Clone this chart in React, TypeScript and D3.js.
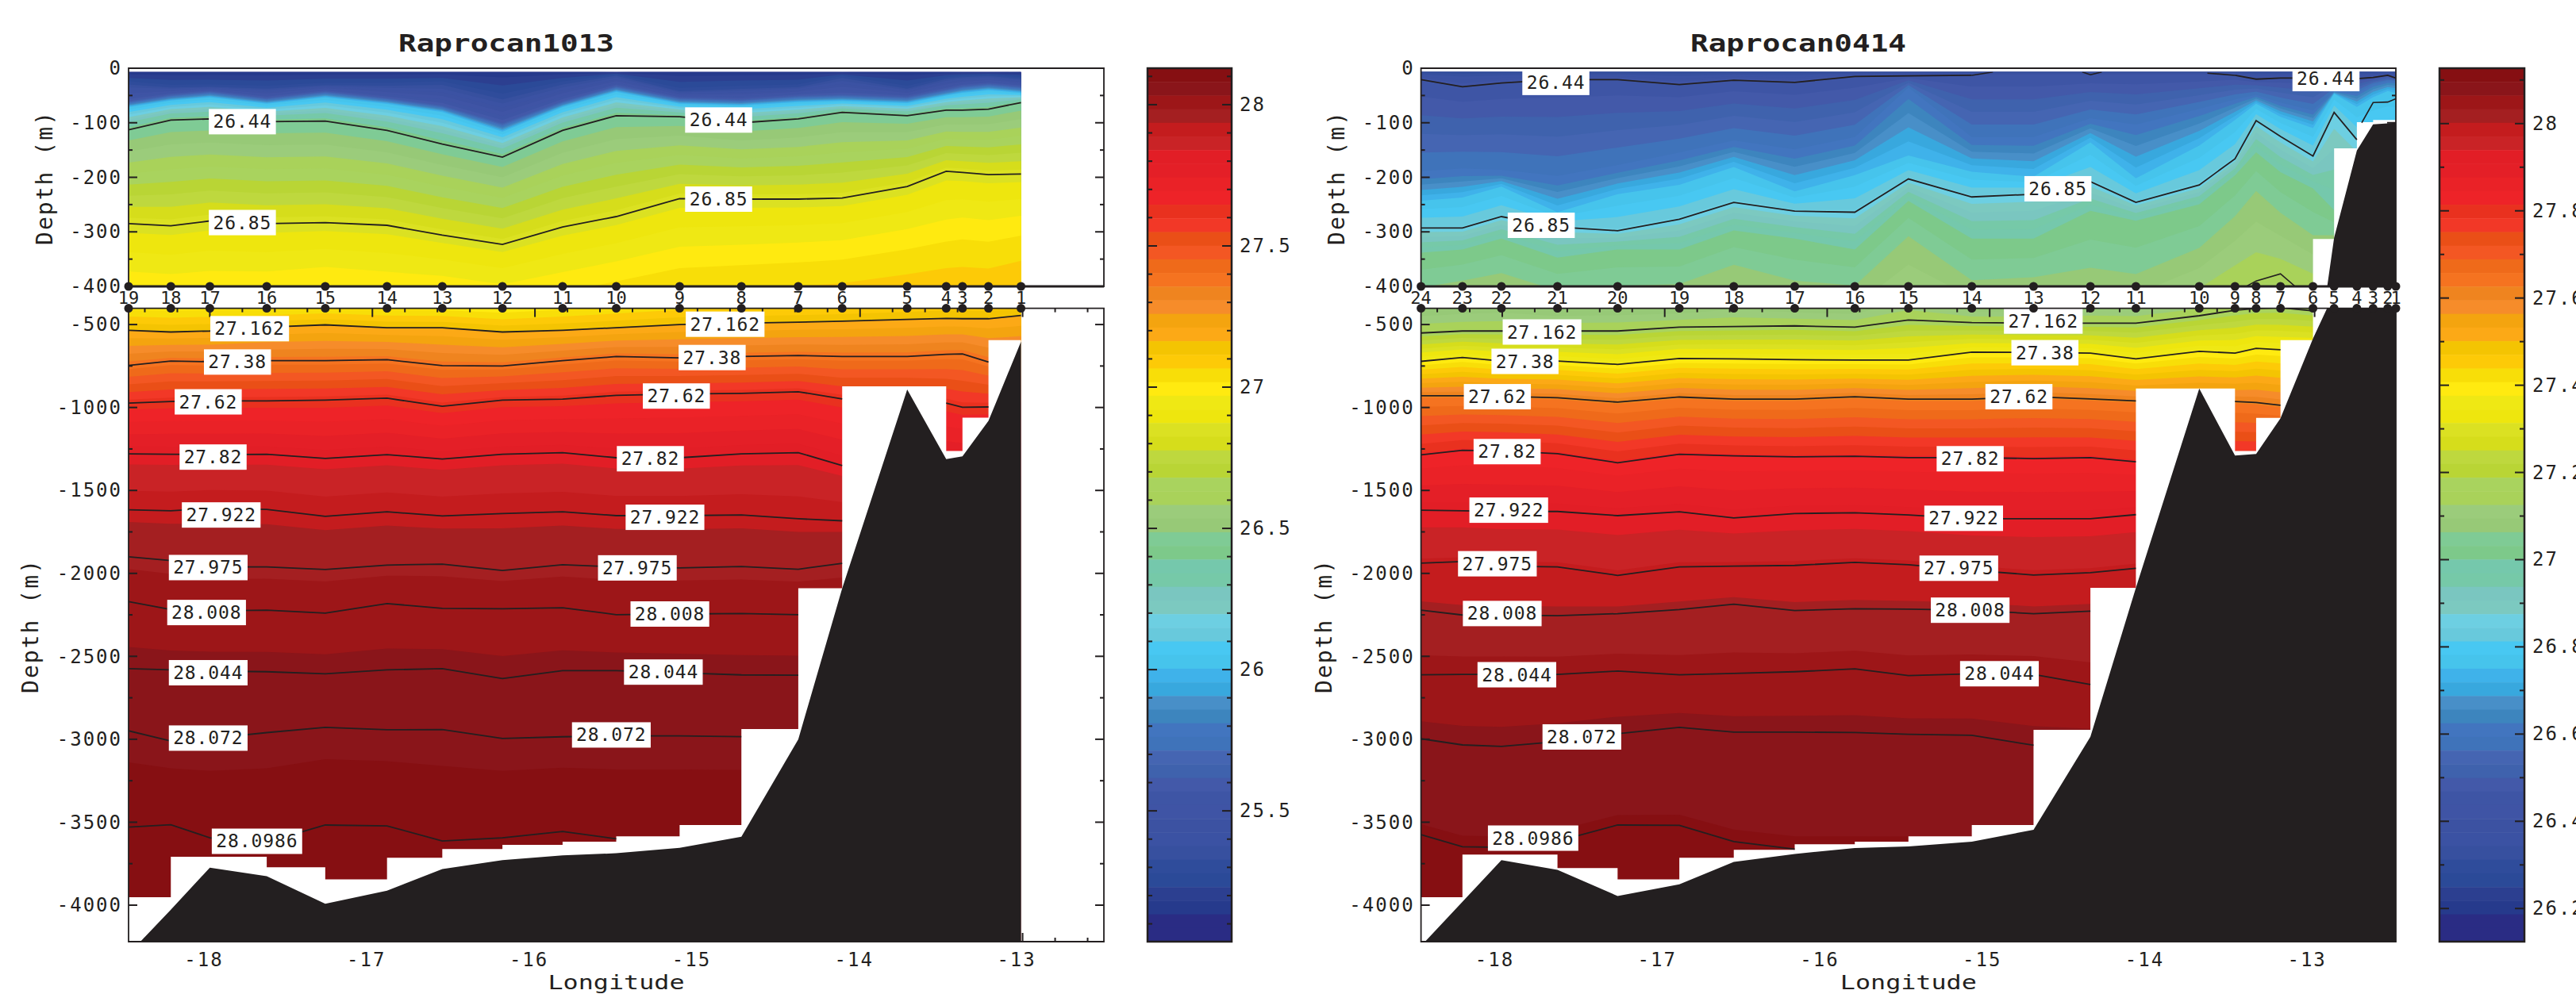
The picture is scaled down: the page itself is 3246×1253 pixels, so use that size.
import React, { useEffect, useRef } from 'react';
import { select, scaleLinear, area, line, curveStepAfter, range, axisLeft, axisBottom } from 'd3';

// colorbar colours, densest band first (same 64 in both colorbars)
const palette = [
  '#860f12', '#8a151a', '#9d1618', '#a41f21', '#c41c1e', '#c92326', '#e21e26', '#e41f27',
  '#ea2227', '#ee2328', '#e9311f', '#f23827', '#ea4f17', '#f35723', '#ef6a1a', '#f57320',
  '#ef841f', '#f68c2a', '#f4a40f', '#fca916', '#f4c402', '#fdca07', '#f8de08', '#ffea10',
  '#efe814', '#eee60e', '#dbe122', '#d6dd1b', '#bed83e', '#b9d535', '#a9d35e', '#a9d25a',
  '#9bcc7b', '#97c977', '#7fcb95', '#7dc98a', '#75c8ac', '#76c9a8', '#7ac6c0', '#7cc9c0',
  '#6dcfe2', '#68c9dc', '#48c8f2', '#46c4ec', '#3fb2ea', '#38a8de', '#488fc8', '#3d85be',
  '#4275bf', '#3f73ba', '#4565b2', '#3f62ad', '#4359a9', '#3e55a5', '#3f54a5', '#3c52a2',
  '#3b52a3', '#37509f', '#2f4c9b', '#2b4a98', '#2c3f90', '#263a8c', '#2a2c84', '#2a2c84',
];

const _ = null;

// ---- Raprocan1013 ----
const leftNames = [19, 18, 17, 16, 15, 14, 13, 12, 11, 10, 9, 8, 7, 6, 5, 4, 3, 2, 1];
const leftLon = [-18.5, -18.24, -18.0, -17.65, -17.29, -16.91, -16.57, -16.2, -15.83, -15.5, -15.11, -14.73, -14.38, -14.11, -13.71, -13.47, -13.37, -13.21, -13.01];
const leftTopo = [4295, 4027, 3774, 3826, 3992, 3913, 3782, 3729, 3700, 3687, 3654, 3588, 3000, 2091, 892, 1311, 1295, 1081, 603];
const leftCells = [3952, 3708, 3708, 3772, 3845, 3714, 3662, 3637, 3617, 3585, 3517, 2939, 2089, 872, 872, 1262, 1061, 594, 594];
const l2530 = [27, 34, 33, 36, 30, 30, 27, 53, 27, 12, 41, 36, 33, 15, 36, 18, 15, 13, 18];
const l2560 = [60, 48, 42, 54, 42, 54, 68, 100, 60, 32, 54, 57, 50, 48, 52, 38, 32, 28, 33];
const l2600 = [71, 59, 53, 65, 53, 65, 80, 116, 71, 43, 65, 68, 62, 60, 64, 50, 45, 40, 45];
const l2644 = [113, 95, 93, 98, 97, 114, 139, 163, 114, 87, 89, 100, 93, 81, 87, 77, 77, 75, 63];
const l2685 = [285, 289, 280, 285, 283, 288, 306, 323, 291, 272, 239, 240, 240, 238, 217, 189, 191, 195, 194];
const l2700 = [395, 400, 395, 395, 385, 395, 400, 415, 395, 375, 350, 345, 340, 335, 315, 300, 295, 300, 290];
const l27162 = [535, 545, 539, 516, 502, 519, 519, 545, 535, 519, 500, 492, 486, 480, 469, 463, 465, 465, 445];
const l2738 = [746, 720, 724, 718, 718, 712, 748, 750, 718, 693, 701, 693, 687, 693, 693, 679, 677, 726, _];
const l2762 = [974, 964, 960, 960, 956, 944, 993, 956, 950, 927, 919, 915, 905, 948, _, 974, 999, 997, _];
const l2782 = [1280, 1282, 1284, 1282, 1307, 1284, 1311, 1282, 1272, 1303, 1303, 1280, 1272, 1350, _, _, _, _, _];
const l27922 = [1617, 1623, 1608, 1614, 1656, 1629, 1654, 1639, 1629, 1652, 1652, 1648, 1671, 1683, _, _, _, _, _];
const l27975 = [1900, 1923, 1961, 1961, 1977, 1950, 1944, 1983, 1948, 1961, 1967, 1959, 1975, 1940, _, _, _, _, _];
const l28008 = [2170, 2218, 2226, 2222, 2240, 2182, 2211, 2213, 2207, 2249, 2245, 2242, 2249, _, _, _, _, _, _];
const l28044 = [2574, 2582, 2589, 2593, 2605, 2582, 2574, 2634, 2586, 2586, 2599, 2612, 2614, _, _, _, _, _, _];
const l28072 = [2949, 3011, 2995, 2960, 2928, 2943, 2941, 2995, 2985, 2980, 2980, 2984, _, _, _, _, _, _, _];
const l280986 = [3530, 3515, 3594, 3620, 3517, 3522, 3613, 3594, 3556, 3600, _, _, _, _, _, _, _, _, _];
// label text, longitude, depth
const leftLabels: [string, number, number][] = [
  ['26.44', -17.8, 98], ['26.44', -14.87, 95], ['26.85', -17.8, 283], ['26.85', -14.87, 240],
  ['27.162', -17.755, 525], ['27.162', -14.83, 498], ['27.38', -17.83, 726], ['27.38', -14.91, 699],
  ['27.62', -18.01, 966], ['27.62', -15.13, 931], ['27.82', -17.98, 1299], ['27.82', -15.29, 1309],
  ['27.922', -17.93, 1648], ['27.922', -15.2, 1662], ['27.975', -18.01, 1965], ['27.975', -15.37, 1967],
  ['28.008', -18.02, 2236], ['28.008', -15.17, 2245], ['28.044', -18.01, 2599], ['28.044', -15.21, 2595],
  ['28.072', -18.01, 2993], ['28.072', -15.53, 2974], ['28.0986', -17.71, 3615],
];
const leftBarTicks = [28, 27.5, 27, 26.5, 26, 25.5];

// ---- Raprocan0414 ----
const rightNames = [24, 23, 22, 21, 20, 19, 18, 17, 16, 15, 14, 13, 12, 11, 10, 9, 8, 7, 6, 5, 4, 3, 2, 1];
const rightLon = [-18.5, -18.245, -18.005, -17.66, -17.29, -16.91, -16.575, -16.2, -15.83, -15.5, -15.11, -14.73, -14.38, -14.1, -13.71, -13.49, -13.36, -13.21, -13.01, -12.88, -12.74, -12.64, -12.55, -12.5];
const rightTopo = [4246, 3980, 3729, 3787, 3945, 3874, 3739, 3691, 3656, 3646, 3617, 3546, 2985, 2087, 886, 1290, 1280, 1065, 584, 311, 151, 103, 101, 100];
const rightCells = [3952, 3695, 3695, 3776, 3845, 3714, 3666, 3633, 3617, 3585, 3517, 2943, 2087, 886, 886, 1262, 1063, 594, 313, 147, 99, 95, 95, 95];
const r2644 = [21, 34, 27, 21, 21, 30, 22, 26, 15, 14, 13, _, _, _, _, 13, 20, 18, 18, 19, 19, 17, 13, 18];
const r2660 = [196, 190, 193, 205, 184, 160, 137, 154, 131, 36, 131, 131, 95, 107, 77, 59, 50, 65, 80, 42, 47, 30, 24, 24];
const r2675 = [243, 237, 217, 264, 231, 214, 181, 226, 196, 160, 190, 199, 136, 202, 142, 95, 65, 89, 110, 47, 71, 53, 42, 45];
const r2685 = [293, 293, 272, 291, 298, 277, 246, 262, 264, 203, 236, 231, 208, 246, 214, 166, 96, 125, 161, 81, 131, _, _, _];
const r2700 = [338, 332, 312, 347, 332, 332, 297, 312, 332, 243, 312, 312, 261, 279, 249, 196, 154, 190, 220, 260, _, _, _, _];
const r2706 = [398, 385, 371, 404, 395, 392, 356, 386, 395, 303, 386, 380, 362, 374, 326, 267, 220, 261, 303, _, _, _, _, _];
const r27162 = [551, 539, 539, 539, 539, 516, 512, 508, 516, 473, 488, 492, 492, 492, 447, 414, 403, 399, 418, _, _, _, _, _];
const r2738 = [722, 699, 720, 720, 740, 705, 707, 712, 714, 714, 666, 668, 672, 707, 662, 672, 644, 652, _, _, _, _, _, _];
const r2762 = [929, 929, 933, 941, 968, 937, 950, 950, 935, 950, 950, 935, 948, 960, _, 964, 970, 987, _, _, _, _, _, _];
const r2782 = [1286, 1258, 1262, 1278, 1333, 1282, 1292, 1298, 1294, 1302, 1302, 1308, 1302, 1327, _, _, _, _, _, _, _, _, _, _];
const r27922 = [1619, 1623, 1627, 1627, 1652, 1629, 1666, 1639, 1635, 1648, 1671, 1671, 1671, 1646, _, _, _, _, _, _, _, _, _, _];
const r27975 = [1938, 1929, 1956, 1961, 2012, 1961, 1956, 1952, 1934, 1948, 1981, 2010, 1996, 1969, _, _, _, _, _, _, _, _, _, _];
const r28008 = [2222, 2251, 2251, 2255, 2243, 2218, 2186, 2224, 2213, 2216, 2222, 2243, 2228, _, _, _, _, _, _, _, _, _, _, _];
const r28044 = [2611, 2609, 2609, 2609, 2589, 2611, 2603, 2593, 2576, 2616, 2605, 2609, 2670, _, _, _, _, _, _, _, _, _, _, _];
const r28072 = [2997, 3034, 3043, 3014, 2966, 2928, 2957, 2957, 2959, 2970, 2976, 3036, _, _, _, _, _, _, _, _, _, _, _, _];
const r280986 = [3575, 3648, 3652, 3614, 3517, 3519, 3617, 3662, _, _, _, _, _, _, _, _, _, _, _, _, _, _, _, _];
// short contour pieces that do not run station to station: [lon, depth]
const rightPieces: [number, number][][] = [
  [[-15.11, 13], [-14.98, 7]],
  [[-14.43, 7], [-14.38, 12], [-14.31, 7]],
  [[-13.66, 9], [-13.49, 13]],
  [[-12.71, 100], [-12.64, 63], [-12.55, 62], [-12.5, 56]],
  [[-13.42, 400], [-13.36, 390], [-13.21, 377], [-13.12, 400]],
];
const rightLabels: [string, number, number][] = [
  ['26.44', -17.67, 26], ['26.44', -12.93, 19], ['26.85', -17.76, 288], ['26.85', -14.58, 221],
  ['27.162', -17.755, 545], ['27.162', -14.67, 479], ['27.38', -17.86, 722], ['27.38', -14.66, 670],
  ['27.62', -18.03, 935], ['27.62', -14.82, 935], ['27.82', -17.97, 1266], ['27.82', -15.12, 1309],
  ['27.922', -17.96, 1619], ['27.922', -15.16, 1668], ['27.975', -18.03, 1942], ['27.975', -15.19, 1969],
  ['28.008', -18.0, 2242], ['28.008', -15.12, 2222], ['28.044', -17.91, 2611], ['28.044', -14.94, 2605],
  ['28.072', -17.51, 2986], ['28.0986', -17.81, 3596],
];
const rightBarTicks = [28, 27.8, 27.6, 27.4, 27.2, 27, 26.8, 26.6, 26.4, 26.2];

const lonTicks = [-18, -17, -16, -15, -14, -13];

// level table: [density, depth per station, drawn as a contour?]
const leftLevels: [number, (number | null)[], boolean][] = [
  [25.3, l2530, false], [25.6, l2560, false], [26.0, l2600, false], [26.44, l2644, true], [26.85, l2685, true], [27.0, l2700, false],
  [27.162, l27162, true], [27.38, l2738, true], [27.62, l2762, true], [27.82, l2782, true], [27.922, l27922, true],
  [27.975, l27975, true], [28.008, l28008, true], [28.044, l28044, true], [28.072, l28072, true], [28.0986, l280986, true],
];
const rightLevels: [number, (number | null)[], boolean][] = [
  [26.44, r2644, true], [26.6, r2660, false], [26.75, r2675, false], [26.85, r2685, true], [27.0, r2700, false],
  [27.06, r2706, false], [27.162, r27162, true], [27.38, r2738, true], [27.62, r2762, true], [27.82, r2782, true],
  [27.922, r27922, true], [27.975, r27975, true], [28.008, r28008, true], [28.044, r28044, true], [28.072, r28072, true],
  [28.0986, r280986, true],
];

const INK = '#231f20';
const MONO = '"DejaVu Sans Mono", monospace';
const Y0 = 86, Y1 = 361, Y2 = 388.6, Y3 = 1187;
const SURFACE = 7;

// depth of density value `rho` at station i, from the read contour depths
function depthOf(rho, i, surface, levels) {
  let prevRho = surface;
  let prevD = SURFACE;
  for (const [r, arr] of levels) {
    let d = arr[i];
    for (let j = i; d == null && j >= 0; j--) d = arr[j];
    if (rho <= r) return prevD + ((rho - prevRho) / (r - prevRho)) * (d - prevD);
    prevRho = r;
    prevD = d;
  }
  return prevD + (rho - prevRho) * 20000;
}

function drawSection(svg, id, o) {
  const x = scaleLinear().domain([-18.5, -12.5]).range([o.x0, o.x1]);
  const yTop = scaleLinear().domain([0, -400]).range([Y0, Y1]);
  const yLow = scaleLinear().domain([-402, -4220]).range([Y2, Y3]);
  const bar = scaleLinear().domain(o.barDomain).range([Y3, Y0]);
  const stations = range(o.lon.length);
  const barStep = (o.barDomain[1] - o.barDomain[0]) / palette.length;

  const panels = [
    { y: yTop, top: yTop(-SURFACE), bottom: Y1, name: 'u' },
    { y: yLow, top: Y2, bottom: Y3, name: 'l' },
  ];

  panels.forEach(p => {
    const clipId = `${id}-${p.name}`;
    svg.append('clipPath').attr('id', clipId).append('rect')
      .attr('x', o.x0).attr('y', p.top).attr('width', o.x1 - o.x0).attr('height', p.bottom - p.top);
    const g = svg.append('g').attr('clip-path', `url(#${clipId})`);

    // filled bands, light to dense, each painted down to the panel bottom
    for (let k = palette.length - 1; k >= 0; k--) {
      const rho = o.barDomain[1] - (k + 1) * barStep;
      const band = area()
        .x(i => x(o.lon[i]))
        .y0(i => p.y(-depthOf(rho, i, o.surface, o.levels)))
        .y1(p.bottom);
      g.append('path').attr('d', band(stations)).attr('fill', palette[k]);
    }

    // no-data steps under each station pair
    const cells = area()
      .x(i => x(o.lon[i]))
      .y0(i => p.y(-o.cells[i]))
      .y1(p.bottom)
      .curve(curveStepAfter);
    g.append('path').attr('d', cells(stations)).attr('fill', '#fff');

    // contours
    const contour = line()
      .defined(d => d[1] != null)
      .x(d => x(d[0]))
      .y(d => p.y(-d[1]));
    o.levels.filter(l => l[2]).forEach(l => {
      g.append('path')
        .attr('d', contour(l[1].map((d, i) => [o.lon[i], d])))
        .attr('fill', 'none').attr('stroke', INK).attr('stroke-width', 1.8);
    });
    o.pieces.forEach(piece => {
      g.append('path').attr('d', contour(piece))
        .attr('fill', 'none').attr('stroke', INK).attr('stroke-width', 1.6);
    });
  });

  // ticks sit over the colours but under the bottom topography
  const frame = svg.append('g').attr('stroke', INK).attr('stroke-width', 2);
  const tick = (xa, ya, xb, yb) => frame.append('line').attr('x1', xa).attr('y1', ya).attr('x2', xb).attr('y2', yb);
  range(50, 400, 50).forEach(d => {
    const len = d % 100 === 0 ? 11 : 5;
    tick(o.x0, yTop(-d), o.x0 + len, yTop(-d));
    tick(o.x1, yTop(-d), o.x1 - len, yTop(-d));
  });
  range(500, 4250, 250).forEach(d => {
    const len = d % 500 === 0 ? 11 : 5;
    tick(o.x0, yLow(-d), o.x0 + len, yLow(-d));
    tick(o.x1, yLow(-d), o.x1 - len, yLow(-d));
  });
  range(-92, -62).map(v => v / 5).forEach(v => {
    const len = Number.isInteger(v) ? 11 : 5;
    if (v < -18.5 || v > -12.5) return;
    const xv = x(v);
    tick(xv, Y2, xv, Y2 + len);
    tick(xv, Y3, xv, Y3 - len);
  });

  // topography
  panels.forEach(p => {
    const clipId = `${id}-${p.name}-t`;
    const clipTop = p.name === 'u' ? Y0 : Y2;
    svg.append('clipPath').attr('id', clipId).append('rect')
      .attr('x', o.x0).attr('y', clipTop).attr('width', o.x1 - o.x0 + 1).attr('height', p.bottom - clipTop);
    const topo = area().x(i => x(o.lon[i])).y0(i => p.y(-o.topo[i])).y1(p.bottom);
    svg.append('g').attr('clip-path', `url(#${clipId})`)
      .append('path').attr('d', topo(stations)).attr('fill', INK);
  });

  // contour labels
  o.labels.forEach(([text, lon, depth]) => {
    const y = depth <= 400 ? yTop(-depth) : yLow(-depth);
    const w = text.length * 14.7 + 11;
    svg.append('rect').attr('x', x(lon) - w / 2).attr('y', y - 16).attr('width', w).attr('height', 32).attr('fill', '#fff');
    svg.append('text').attr('x', x(lon)).attr('y', y).text(text)
      .attr('text-anchor', 'middle').attr('dominant-baseline', 'central')
      .attr('font-family', MONO).attr('font-size', 23).attr('letter-spacing', 0.9).attr('fill', INK);
  });

  // panel frames
  const box = (y0, y1, w) => {
    svg.append('path').attr('d', `M${o.x0},${y0}H${o.x1}V${y1}H${o.x0}Z`)
      .attr('fill', 'none').attr('stroke', INK).attr('stroke-width', w);
  };
  box(Y0, Y1, 1.8);
  box(Y2, Y3, 1.8);
  svg.append('line').attr('x1', o.x0).attr('x2', o.x1).attr('y1', Y1).attr('y2', Y1).attr('stroke', INK).attr('stroke-width', 3);

  // station markers and numbers
  o.lon.forEach((lon, i) => {
    [Y1, Y2].forEach(cy => {
      svg.append('circle').attr('cx', x(lon)).attr('cy', cy).attr('r', 5.5).attr('fill', INK);
    });
    svg.append('text').attr('x', x(lon)).attr('y', 375).text(o.names[i])
      .attr('text-anchor', 'middle').attr('dominant-baseline', 'central')
      .attr('font-family', MONO).attr('font-size', 22).attr('fill', INK);
  });

  // y axes, labels only: the ticks are drawn above
  const labelAxis = (scale, values) => g => {
    g.attr('transform', `translate(${o.x0 - 8},0)`)
      .call(axisLeft(scale).tickValues(values).tickSize(0).tickPadding(0).tickFormat(v => String(v)));
    g.select('.domain').remove();
    g.selectAll('text').attr('font-family', MONO).attr('font-size', 24).attr('letter-spacing', 2).attr('fill', INK);
  };
  svg.append('g').call(labelAxis(yTop, [0, -100, -200, -300, -400]));
  svg.append('g').call(labelAxis(yLow, [-500, -1000, -1500, -2000, -2500, -3000, -3500, -4000]));

  const xAxis = svg.append('g').attr('transform', `translate(${o.labelShift},1201)`)
    .call(axisBottom(x).tickValues(lonTicks).tickSize(0).tickPadding(0).tickFormat(v => String(v)));
  xAxis.select('.domain').remove();
  xAxis.selectAll('text').attr('font-family', MONO).attr('font-size', 24).attr('letter-spacing', 2).attr('fill', INK);

  // titles
  svg.append('text').attr('x', o.titleX).attr('y', 65).text(o.title)
    .attr('text-anchor', 'middle').attr('font-family', MONO).attr('font-weight', 'bold').attr('font-size', 31)
    .attr('textLength', 272).attr('lengthAdjust', 'spacingAndGlyphs').attr('fill', INK);
  svg.append('text').attr('x', (o.x0 + o.x1) / 2).attr('y', 1247).text('Longitude')
    .attr('text-anchor', 'middle').attr('font-family', MONO).attr('font-size', 25)
    .attr('textLength', 172).attr('lengthAdjust', 'spacingAndGlyphs').attr('fill', INK);
  [[o.depthX[0], 225], [o.depthX[1], 790]].forEach(([dx, dy]) => {
    svg.append('text').attr('transform', `translate(${dx},${dy}) rotate(-90)`).text('Depth (m)')
      .attr('text-anchor', 'middle').attr('font-family', MONO).attr('font-size', 28)
      .attr('textLength', 168).attr('lengthAdjust', 'spacing').attr('fill', INK);
  });

  // colorbar
  palette.forEach((c, k) => {
    const hi = o.barDomain[1] - k * barStep;
    svg.append('rect').attr('x', o.bar0).attr('y', bar(hi)).attr('width', o.bar1 - o.bar0)
      .attr('height', bar(hi - barStep) - bar(hi) + 0.5).attr('fill', c);
  });
  const bf = svg.append('g').attr('stroke', INK);
  range(Math.ceil(o.barDomain[0] * 10), Math.floor(o.barDomain[1] * 10) + 1).forEach(v => {
    const val = v / 10;
    const major = o.barTicks.includes(val);
    const len = major ? 12 : 6;
    bf.append('line').attr('x1', o.bar0).attr('x2', o.bar0 + len).attr('y1', bar(val)).attr('y2', bar(val)).attr('stroke-width', 2);
    bf.append('line').attr('x1', o.bar1).attr('x2', o.bar1 - len).attr('y1', bar(val)).attr('y2', bar(val)).attr('stroke-width', 2);
  });
  svg.append('rect').attr('x', o.bar0).attr('y', Y0).attr('width', o.bar1 - o.bar0).attr('height', Y3 - Y0)
    .attr('fill', 'none').attr('stroke', INK).attr('stroke-width', 2.5);
  o.barTicks.forEach(v => {
    svg.append('text').attr('x', o.bar1 + 10).attr('y', bar(v)).text(String(v))
      .attr('dominant-baseline', 'central').attr('font-family', MONO).attr('font-size', 24)
      .attr('letter-spacing', 2).attr('fill', INK);
  });
}

const App = () => {
  const ref = useRef(null);

  useEffect(() => {
    const svg = select(ref.current);
    svg.selectAll('*').remove();

    drawSection(svg, 'a', {
      title: 'Raprocan1013', titleX: 638, x0: 162, x1: 1391, bar0: 1446, bar1: 1552,
      depthX: [66, 48], labelShift: -8,
      names: leftNames, lon: leftLon, topo: leftTopo, cells: leftCells, levels: leftLevels,
      surface: 25.15, barDomain: [25.037, 28.129], barTicks: leftBarTicks, labels: leftLabels, pieces: [],
    });
    drawSection(svg, 'b', {
      title: 'Raprocan0414', titleX: 2266, x0: 1790.6, x1: 3019, bar0: 3074, bar1: 3181,
      depthX: [1694, 1678], labelShift: -10,
      names: rightNames, lon: rightLon, topo: rightTopo, cells: rightCells, levels: rightLevels,
      surface: 26.3, barDomain: [26.124, 28.127], barTicks: rightBarTicks, labels: rightLabels, pieces: rightPieces,
    });
  }, []);

  return (
    <svg
      ref={ref}
      width={3246}
      height={1253}
      style={{ position: 'absolute', left: 0, top: 0, background: '#fff', display: 'block' }}
    />
  );
};

export default App;
